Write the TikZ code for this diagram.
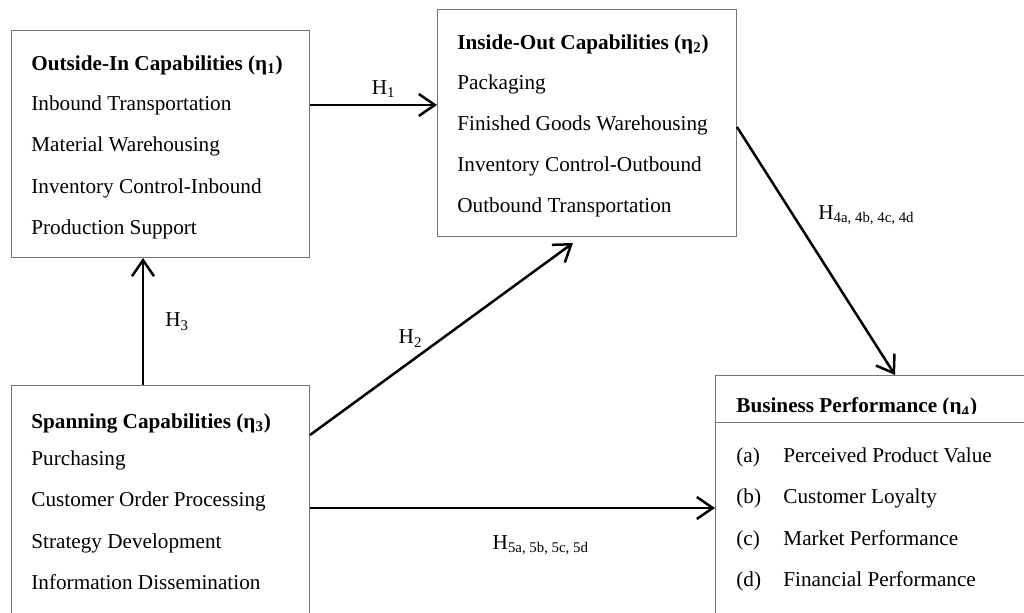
\documentclass[tikz,border=0pt]{standalone}
\usepackage{fontspec}
\setmainfont{Liberation Serif}
\usepackage{tikz}
\usetikzlibrary{arrows.meta,positioning}

\begin{document}
\begin{tikzpicture}[
  x=0.5pt, y=-0.5pt,
  font=\fontsize{10.6}{20.8}\selectfont,
  capbox/.style={draw=black!55, line width=0.5pt, anchor=north west, inner sep=0pt},
  captxt/.style={anchor=base west, align=left, inner sep=0pt},
  arr/.style={-{Straight Barb[length=8pt,width=11pt]}, line width=1.25pt},
  hyp/.style={inner sep=1pt}
]
\useasboundingbox (0,0) rectangle (1024,613);
\clip (0,0) rectangle (1024,613);

% capability boxes
\node[capbox, minimum width=149pt, minimum height=113.5pt] (oi) at (11,30) {};
\node[capbox, minimum width=149.5pt, minimum height=113.5pt] (io) at (437,9) {};
\node[capbox, minimum width=149pt, minimum height=130pt] (sp) at (11,385) {};
\node[capbox, minimum width=170pt, minimum height=130pt] (bp) at (715,375) {};
\draw[draw=black!55, line width=0.5pt] (bp.west |- 0,423) -- (bp.east |- 0,423);

% box contents (anchored at the baseline of the last line)
\node[captxt] (oitxt) at (31,235) {\textbf{Outside-In Capabilities (η\textsubscript{1})}\\[-0.8pt]
  Inbound Transportation\\ Material Warehousing\\ Inventory Control-Inbound\\ Production Support};
\node[captxt, font=\fontsize{10.6}{20.6}\selectfont] (iotxt) at (457,213) {\textbf{Inside-Out Capabilities (η\textsubscript{2})}\\[-0.6pt]
  Packaging\\ Finished Goods Warehousing\\ Inventory Control-Outbound\\ Outbound Transportation};
\node[captxt] (sptxt) at (31,590) {\textbf{Spanning Capabilities (η\textsubscript{3})}\\[-2.3pt]
  Purchasing\\ Customer Order Processing\\ Strategy Development\\ Information Dissemination};
\begin{scope}
  \clip (bp.north west) rectangle (1024,414);
  \node[captxt] (bptitle) at (736,413) {\textbf{Business Performance (η\textsubscript{4})}};
\end{scope}
\node[captxt] (bptxt) at (736,587) {%
  \makebox[23.5pt][l]{(a)}Perceived Product Value\\
  \makebox[23.5pt][l]{(b)}Customer Loyalty\\
  \makebox[23.5pt][l]{(c)}Market Performance\\
  \makebox[23.5pt][l]{(d)}Financial Performance};

% hypotheses
\draw[arr] (oi.east |- 0,105) -- node[hyp, pos=0.58, above=2pt] (h1) {H\textsubscript{1}} (io.west |- 0,105);
\draw[arr] (sp.east |- 0,435) -- node[hyp, pos=0.44, above left=0pt] (h2) {H\textsubscript{2}} ([yshift=-3pt]io.south -| 573,0);
\draw[arr] (sp.north -| 143,0) -- node[hyp, midway, right=9.5pt] (h3) {H\textsubscript{3}} (oi.south -| 143,0);
\draw[arr] (io.east |- 0,127) -- node[hyp, pos=0.355, right=11pt] (h4) {H\textsubscript{4a, 4b, 4c, 4d}} (bp.north -| 895,0);
\draw[arr] (sp.east |- 0,508) -- node[hyp, pos=0.57, below=12pt] (h5) {H\textsubscript{5a, 5b, 5c, 5d}} (bp.west |- 0,508);
\end{tikzpicture}
\end{document}
